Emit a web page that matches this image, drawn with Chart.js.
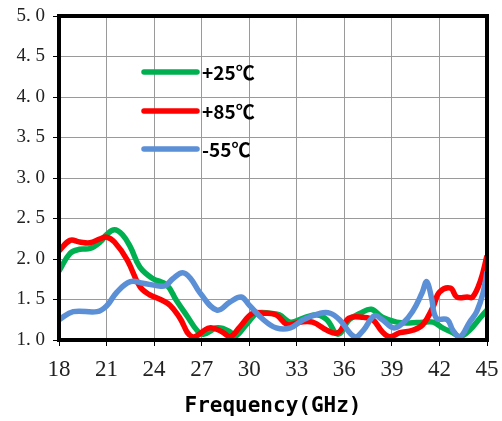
<!DOCTYPE html>
<html>
<head>
<meta charset="utf-8">
<script src="https://cdn.jsdelivr.net/npm/chart.js@4.4.1/dist/chart.umd.min.js"></script>
<style>
  html, body { margin: 0; padding: 0; background: #fff; }
  #wrap { width: 502px; height: 421px; }
</style>
</head>
<body>
<div id="wrap"><canvas id="myChart" width="502" height="421"></canvas></div>
<script>
// VSWR vs frequency, three temperatures
var seriesNames = ['+25℃', '+85℃', '-55℃'];
var seriesColors = ['#00b050', '#ff0000', '#5b8fd6'];

var freq25 = [18, 18.7, 19.3, 19.95, 20.6, 21.0, 21.5, 22.0, 22.5, 23.1, 23.9, 24.8, 25.4, 26.1, 26.7, 27.1, 28.0, 28.8, 29.1, 29.9, 30.5, 31.3, 31.9, 32.6, 33.4, 34.3, 34.9, 35.6, 36.3, 37.0, 37.7, 38.4, 39.3, 40.1, 40.95, 41.6, 42.2, 42.85, 43.3, 43.9, 44.6, 45];
var vswr25 = [1.85, 2.07, 2.12, 2.13, 2.21, 2.30, 2.36, 2.30, 2.15, 1.90, 1.76, 1.68, 1.49, 1.29, 1.12, 1.07, 1.15, 1.10, 1.04, 1.21, 1.33, 1.33, 1.31, 1.22, 1.27, 1.31, 1.25, 1.07, 1.25, 1.33, 1.38, 1.28, 1.22, 1.21, 1.22, 1.22, 1.15, 1.09, 1.04, 1.12, 1.28, 1.37];

var freq85 = [18, 18.7, 19.3, 19.95, 20.6, 21.0, 21.5, 22.3, 23.1, 23.7, 24.4, 25.0, 25.6, 26.4, 27.5, 28.3, 28.8, 29.4, 30.2, 30.9, 31.7, 32.4, 33.2, 34.0, 34.9, 35.6, 36.3, 37.2, 37.8, 38.4, 38.85, 39.5, 40.3, 40.95, 41.6, 42.0, 42.7, 43.1, 43.75, 44.1, 44.6, 45];
var vswr85 = [2.10, 2.23, 2.21, 2.20, 2.25, 2.27, 2.21, 1.99, 1.66, 1.56, 1.50, 1.43, 1.28, 1.04, 1.15, 1.10, 1.04, 1.16, 1.33, 1.33, 1.31, 1.19, 1.22, 1.22, 1.12, 1.09, 1.27, 1.28, 1.25, 1.10, 1.04, 1.09, 1.12, 1.19, 1.41, 1.59, 1.64, 1.53, 1.53, 1.53, 1.74, 2.04];

var freq55 = [18, 18.9, 20.4, 21.0, 21.65, 22.5, 23.3, 24.2, 24.7, 25.2, 25.8, 26.3, 26.9, 27.96, 28.8, 29.5, 30.0, 30.9, 31.7, 32.6, 33.4, 34.5, 35.1, 35.7, 36.65, 37.2, 37.9, 38.4, 39.1, 39.7, 40.3, 40.9, 41.2, 41.5, 41.8, 42.5, 42.85, 43.3, 43.9, 44.35, 44.75, 45];
var vswr55 = [1.25, 1.35, 1.35, 1.42, 1.59, 1.72, 1.70, 1.67, 1.67, 1.76, 1.83, 1.76, 1.58, 1.37, 1.47, 1.53, 1.43, 1.25, 1.15, 1.15, 1.25, 1.33, 1.33, 1.25, 1.04, 1.12, 1.30, 1.25, 1.15, 1.21, 1.35, 1.58, 1.72, 1.52, 1.27, 1.25, 1.12, 1.04, 1.22, 1.35, 1.58, 1.85];

var xTicks = [18, 21, 24, 27, 30, 33, 36, 39, 42, 45];
var yTicks = [1.0, 1.5, 2.0, 2.5, 3.0, 3.5, 4.0, 4.5, 5.0];

function toPoints(xs, ys) {
    var pts = [];
    for (var i in xs) {
        pts.push({ x: xs[i], y: ys[i] });
    }
    return pts;
}

// legend drawn inside the plot, from dataset labels/colours
var innerLegend = {
    id: 'innerLegend',
    afterDatasetsDraw: function(chart) {
        var ctx = chart.ctx;
        var rows = [72, 111, 149];
        ctx.save();
        chart.data.datasets.forEach(function(ds, i) {
            ctx.strokeStyle = ds.borderColor;
            ctx.lineWidth = 5.5;
            ctx.lineCap = 'round';
            ctx.beginPath();
            ctx.moveTo(144, rows[i]);
            ctx.lineTo(197, rows[i]);
            ctx.stroke();
            ctx.fillStyle = '#000';
            ctx.font = 'bold 19px "Noto Sans CJK SC", "Noto Sans", sans-serif';
            ctx.textBaseline = 'middle';
            ctx.textAlign = 'left';
            ctx.fillText(ds.label, 202, rows[i] + 1);
        });
        ctx.restore();
    }
};

// thick box round the plot area
var plotBox = {
    id: 'plotBox',
    afterDraw: function(chart) {
        var a = chart.chartArea;
        var ctx = chart.ctx;
        ctx.save();
        ctx.strokeStyle = '#000';
        ctx.lineWidth = 4;
        ctx.strokeRect(a.left, a.top, a.right - a.left, a.bottom - a.top);
        ctx.restore();
    }
};

var ctx = document.getElementById('myChart').getContext('2d');
var lineChart = new Chart(ctx, {
    type: 'line',
    data: {
        datasets: [
            { label: seriesNames[0], data: toPoints(freq25, vswr25), borderColor: seriesColors[0], order: 2 },
            { label: seriesNames[1], data: toPoints(freq85, vswr85), borderColor: seriesColors[1], order: 1 },
            { label: seriesNames[2], data: toPoints(freq55, vswr55), borderColor: seriesColors[2], order: 0 }
        ]
    },
    options: {
        responsive: false,
        animation: false,
        layout: { padding: { top: 16, right: 15, left: 0, bottom: 0 } },
        elements: {
            line: { borderWidth: 5.5, tension: 0.4, fill: false },
            point: { radius: 0 }
        },
        plugins: {
            legend: { display: false },
            tooltip: { enabled: false }
        },
        scales: {
            x: {
                type: 'linear',
                min: 18,
                max: 45,
                afterBuildTicks: function(scale) {
                    scale.ticks = xTicks.map(function(v) { return { value: v }; });
                },
                afterFit: function(scale) {
                    scale.height = 81;
                    scale.paddingLeft = 0;
                    scale.paddingRight = 0;
                },
                ticks: {
                    color: '#222',
                    font: { family: '"Liberation Serif", serif', size: 23 },
                    padding: 10,
                    maxRotation: 0
                },
                grid: {
                    color: '#9a9a9a',
                    borderDash: [3, 3],
                    tickColor: '#000',
                    tickBorderDash: [],
                    tickLength: 6
                },
                border: { color: '#000', width: 4, dash: [] },
                title: {
                    display: true,
                    text: 'Frequency(GHz)',
                    color: '#000',
                    font: { family: '"DejaVu Sans Mono", monospace', size: 21, weight: 'bold' },
                    padding: { top: 0, bottom: 2 }
                }
            },
            y: {
                min: 1,
                max: 5,
                afterBuildTicks: function(scale) {
                    scale.ticks = yTicks.map(function(v) { return { value: v }; });
                },
                afterFit: function(scale) {
                    scale.width = 59;
                    scale.paddingTop = 0;
                    scale.paddingBottom = 0;
                },
                ticks: {
                    color: '#222',
                    font: { family: '"Liberation Serif", serif', size: 19 },
                    padding: 8,
                    callback: function(v) { return v.toFixed(1).replace('.', '. '); }
                },
                grid: {
                    color: '#9a9a9a',
                    borderDash: [3, 3],
                    tickColor: '#000',
                    tickBorderDash: [],
                    tickLength: 6
                },
                border: { color: '#000', width: 4 }
            }
        }
    },
    plugins: [innerLegend, plotBox]
});
</script>
</body>
</html>
